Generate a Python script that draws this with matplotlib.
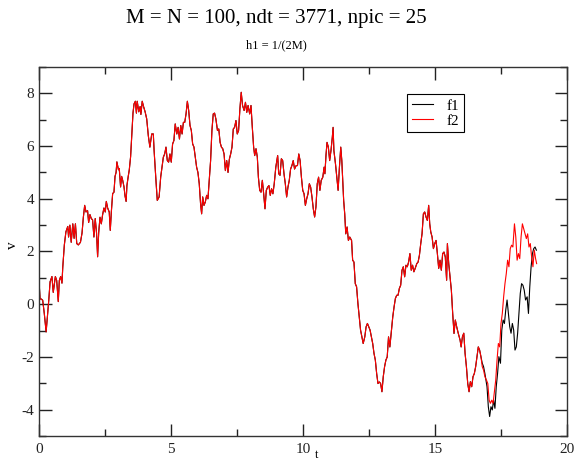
import matplotlib
matplotlib.use("Agg")
import matplotlib.pyplot as plt
from matplotlib.ticker import MultipleLocator

plt.rcParams['font.family'] = ['Liberation Serif', 'DejaVu Serif']
plt.rcParams['axes.unicode_minus'] = False

# f2 (red); f1 follows it until t ~ 16.75
t_f2 = [0.00, 0.04, 0.08, 0.14, 0.20, 0.27, 0.33, 0.37, 0.42, 0.49, 0.54, 0.62, 0.67, 0.73, 0.77,
        0.82, 0.87, 0.90, 0.96, 1.02, 1.09, 1.12, 1.17, 1.22, 1.28, 1.33, 1.38, 1.43, 1.49, 1.57,
        1.63, 1.68, 1.73, 1.78, 1.84, 1.88, 1.93, 1.98, 2.03, 2.08, 2.13, 2.18, 2.22, 2.26, 2.31,
        2.36, 2.41, 2.46, 2.51, 2.55, 2.60, 2.66, 2.70, 2.74, 2.79, 2.84, 2.88, 2.92, 2.95, 3.01,
        3.04, 3.09, 3.13, 3.17, 3.22, 3.26, 3.30, 3.33, 3.38, 3.42, 3.47, 3.52, 3.56, 3.60, 3.65,
        3.69, 3.72, 3.78, 3.83, 3.86, 3.91, 3.96, 4.02, 4.08, 4.14, 4.20, 4.27, 4.33, 4.36, 4.39,
        4.43, 4.48, 4.55, 4.61, 4.66, 4.71, 4.76, 4.81, 4.86, 4.91, 4.96, 5.01, 5.06, 5.11, 5.16,
        5.22, 5.27, 5.32, 5.37, 5.42, 5.47, 5.52, 5.57, 5.62, 5.67, 5.72, 5.77, 5.82, 5.87, 5.92,
        5.97, 6.02, 6.07, 6.12, 6.16, 6.20, 6.25, 6.30, 6.35, 6.40, 6.45, 6.50, 6.55, 6.60, 6.65,
        6.70, 6.76, 6.81, 6.86, 6.91, 6.96, 7.01, 7.06, 7.11, 7.16, 7.21, 7.26, 7.31, 7.36, 7.41,
        7.46, 7.51, 7.56, 7.61, 7.66, 7.71, 7.77, 7.82, 7.87, 7.92, 7.98, 8.03, 8.08, 8.13, 8.17,
        8.22, 8.27, 8.31, 8.36, 8.41, 8.46, 8.51, 8.56, 8.61, 8.66, 8.71, 8.76, 8.81, 8.86, 8.91,
        8.97, 9.02, 9.04, 9.08, 9.13, 9.18, 9.23, 9.28, 9.33, 9.38, 9.43, 9.48, 9.53, 9.58, 9.63,
        9.68, 9.74, 9.79, 9.84, 9.89, 9.94, 9.99, 10.04, 10.09, 10.14, 10.19, 10.24, 10.29, 10.34,
        10.39, 10.44, 10.49, 10.54, 10.59, 10.64, 10.69, 10.75, 10.80, 10.83, 10.87, 10.91, 10.96,
        11.01, 11.06, 11.11, 11.14, 11.17, 11.23, 11.28, 11.33, 11.38, 11.43, 11.47, 11.50, 11.54,
        11.58, 11.62, 11.67, 11.72, 11.77, 11.84, 11.88, 11.93, 11.98, 12.03, 12.08, 12.13, 12.18,
        12.23, 12.28, 12.34, 12.39, 12.44, 12.49, 12.54, 12.59, 12.64, 12.69, 12.74, 12.79, 12.84,
        12.89, 12.94, 12.99, 13.04, 13.09, 13.14, 13.19, 13.24, 13.29, 13.35, 13.40, 13.45, 13.50,
        13.55, 13.60, 13.65, 13.70, 13.75, 13.80, 13.85, 13.90, 13.95, 14.00, 14.05, 14.10, 14.15,
        14.20, 14.25, 14.31, 14.36, 14.41, 14.46, 14.51, 14.56, 14.61, 14.66, 14.71, 14.76, 14.80,
        14.84, 14.89, 14.94, 14.99, 15.04, 15.09, 15.14, 15.19, 15.24, 15.29, 15.34, 15.39, 15.44,
        15.47, 15.52, 15.57, 15.62, 15.67, 15.72, 15.77, 15.82, 15.88, 15.95, 15.99, 16.04, 16.09,
        16.14, 16.19, 16.24, 16.29, 16.34, 16.39, 16.44, 16.49, 16.54, 16.59, 16.64, 16.69, 16.74,
        16.79, 16.84, 16.89, 16.95, 17.00, 17.05, 17.10, 17.15, 17.20, 17.25, 17.30, 17.35, 17.40,
        17.45, 17.50, 17.55, 17.60, 17.65, 17.70, 17.75, 17.80, 17.85, 17.90, 17.95, 18.01, 18.06,
        18.11, 18.16, 18.21, 18.26, 18.31, 18.36, 18.41, 18.46, 18.51, 18.56, 18.61, 18.66, 18.71,
        18.76, 18.81, 18.85]
v_f2 = [0.90, 0.20, 0.20, 0.15, -0.35, -1.05, -0.35, 0.15, 0.85, 1.05, 0.45, 1.05, 0.90, 0.10, 0.90,
        1.05, 0.80, 1.40, 2.25, 2.75, 2.95, 2.55, 3.00, 2.35, 3.05, 2.50, 3.05, 2.30, 2.25, 2.35,
        2.70, 3.30, 3.75, 3.50, 3.55, 3.10, 3.40, 3.25, 3.20, 2.55, 3.25, 2.70, 1.80, 2.70, 3.30,
        3.05, 3.40, 3.65, 3.50, 3.90, 3.65, 3.50, 2.80, 3.50, 4.20, 4.25, 4.85, 5.00, 5.40, 5.10,
        5.15, 4.45, 4.85, 4.70, 4.45, 4.10, 3.90, 4.50, 4.85, 5.10, 5.60, 6.50, 7.25, 7.60, 7.70,
        7.25, 7.70, 7.30, 7.50, 7.20, 7.70, 7.50, 7.30, 7.03, 6.40, 5.96, 6.46, 6.46, 5.83, 5.33,
        4.70, 3.94, 4.07, 4.83, 5.20, 5.58, 5.70, 5.96, 5.45, 5.39, 5.70, 5.39, 6.08, 6.21, 6.84,
        6.46, 6.71, 6.27, 6.78, 6.46, 6.90, 6.90, 7.22, 7.70, 7.35, 6.78, 6.59, 6.08, 5.96, 5.58,
        5.20, 5.00, 4.57, 3.81, 3.43, 4.07, 3.75, 3.88, 4.13, 4.00, 4.70, 5.45, 6.59, 7.22, 7.25,
        7.03, 6.59, 6.65, 6.14, 5.96, 5.90, 5.70, 5.07, 5.45, 5.00, 5.50, 5.70, 5.96, 6.65, 6.71,
        6.97, 6.46, 6.59, 7.41, 8.04, 7.54, 7.35, 7.66, 7.28, 7.54, 7.22, 7.54, 6.71, 5.96, 5.64,
        5.90, 5.58, 4.82, 4.32, 4.25, 4.70, 4.19, 3.62, 4.32, 4.44, 4.50, 4.13, 4.38, 4.19, 4.57,
        5.20, 5.52, 5.64, 4.95, 4.89, 5.52, 5.45, 4.95, 4.57, 4.07, 4.44, 4.70, 5.13, 5.26, 5.45,
        5.13, 5.26, 5.26, 5.70, 5.45, 4.82, 4.32, 4.19, 3.75, 4.00, 4.19, 4.57, 4.44, 4.07,
        3.62, 3.31, 3.69, 4.57, 4.82, 4.32, 4.70, 4.82, 5.20, 4.95, 5.64, 6.14, 5.96,
        5.45, 5.83, 6.33, 6.71, 5.83, 5.33, 4.82, 4.32, 5.20, 5.96, 5.45, 4.82, 3.94,
        3.43, 2.67, 2.93, 2.42, 2.55, 2.42, 1.67, 1.60, 0.78, 0.66, 0.03, -0.48, -0.98,
        -1.24, -1.49, -1.24, -0.86, -0.73, -0.86, -0.98, -1.24, -1.49, -1.87, -2.12, -2.63, -3.01,
        -2.95, -3.01, -3.32, -2.75, -2.37, -2.12, -2.00, -1.24, -1.62, -0.98, -0.48, -0.10, 0.22,
        0.34, 0.34, 0.60, 0.72, 1.29, 1.42, 1.04, 1.48, 1.42, 1.60, 1.92, 1.29, 1.48,
        1.23, 1.36, 1.54, 1.60, 1.86, 2.30, 2.68, 3.43, 3.50, 3.31, 3.18, 3.75, 3.05,
        2.74, 2.55, 2.11, 2.30, 2.42, 1.92, 1.36, 1.67, 1.29, 1.92, 1.98, 1.79, 0.91,
        2.30, 1.54, 1.04, 0.53, -0.35, -1.11, -0.60, -0.85, -1.10, -1.36, -1.62, -1.23, -1.10,
        -1.87, -2.37, -3.01, -3.32, -2.94, -3.13, -2.75, -2.63, -2.37, -1.99, -1.62, -1.74, -1.99,
        -2.37, -2.50, -2.75, -2.88, -3.01, -3.64, -3.76, -3.64, -3.76, -3.32, -2.88, -2.12, -1.49,
        -1.62, -0.73, -0.35, 0.28, 0.78, 1.16, 1.67, 1.42, 2.11, 2.24, 2.17, 3.05, 2.55,
        1.67, 1.92, 1.73, 2.55, 3.05, 2.86, 2.67, 2.49, 2.67, 2.17, 2.30, 1.79, 1.42,
        2.05, 1.73, 1.54]

# f1 (black) after it leaves f2
t_f1_tail = [16.79, 16.84, 16.89, 16.97, 17.02, 17.07, 17.12, 17.17, 17.22, 17.27, 17.32, 17.37,
             17.42, 17.48, 17.53, 17.58, 17.63, 17.68, 17.73, 17.78, 17.83, 17.88, 17.93, 17.98,
             18.03, 18.08, 18.13, 18.18, 18.23, 18.28, 18.33, 18.38, 18.43, 18.49, 18.54, 18.59,
             18.64, 18.69, 18.74, 18.79, 18.84]
v_f1_tail = [-2.24, -2.37, -2.63, -3.13, -3.89, -4.26, -3.89, -4.01, -3.64, -3.95, -3.13, -2.63,
             -1.99, -2.24, -0.98, -0.60, -0.73, -0.22, 0.16, -0.35, -0.85, -1.10, -0.73, -0.98,
             -1.74, -1.62, -1.10, -0.35, 0.41, 0.78, 0.72, 0.53, 0.16, 0.28, -0.35, 0.66,
             1.42, 1.92, 2.11, 2.17, 2.05]

split = 16.75
t_f1 = [t for t in t_f2 if t < split] + t_f1_tail
v_f1 = [v for t, v in zip(t_f2, v_f2) if t < split] + v_f1_tail

title = "M = N = 100, ndt = 3771, npic = 25"
subtitle = "h1 = 1/(2M)"

fig = plt.figure(figsize=(5.74, 4.61), dpi=100)
ax = fig.add_axes([39 / 574, 1 - 436 / 461, 528 / 574, 369 / 461])

ax.plot(t_f1, v_f1, color='black', linewidth=0.8, label='f1')
ax.plot(t_f2, v_f2, color='red', linewidth=0.8, label='f2')

ax.set_xlim(0, 20)
ax.set_ylim(-5, 9)
ax.xaxis.set_major_locator(MultipleLocator(5))
ax.xaxis.set_minor_locator(MultipleLocator(2.5))
ax.yaxis.set_major_locator(MultipleLocator(2))
ax.yaxis.set_minor_locator(MultipleLocator(1))
ax.tick_params(which='both', direction='in', top=True, right=True, labelsize=11, colors='#222222')
ax.tick_params(which='major', length=9, width=1)
ax.tick_params(which='minor', length=5, width=1)
ax.tick_params(axis='x', pad=5)
for s in ax.spines.values():
    s.set_linewidth(1.0)
    s.set_color('#333333')

# axis labels: 't' sits on the bottom edge next to "10", 'v' left of the tick labels
fig.text(317 / 574, 0.0, 't', ha='center', va='bottom', fontsize=9)
fig.text(12 / 574, 1 - 245 / 461, 'v', ha='center', va='center', rotation=90, fontsize=11)

fig.text(276 / 574, 1 - 18 / 461, title, ha='center', va='center', fontsize=15)
fig.text(276 / 574, 1 - 45 / 461, subtitle, ha='center', va='center', fontsize=9)

leg = ax.legend(loc='upper left', bbox_to_anchor=(0.697, 0.926), fontsize=11,
                frameon=True, fancybox=False, edgecolor='black', framealpha=1,
                handlelength=1.4, borderpad=0.3, borderaxespad=0, labelspacing=0.1,
                handletextpad=0.9)
leg.get_frame().set_linewidth(0.8)

fig.savefig('out.png', dpi=100)
